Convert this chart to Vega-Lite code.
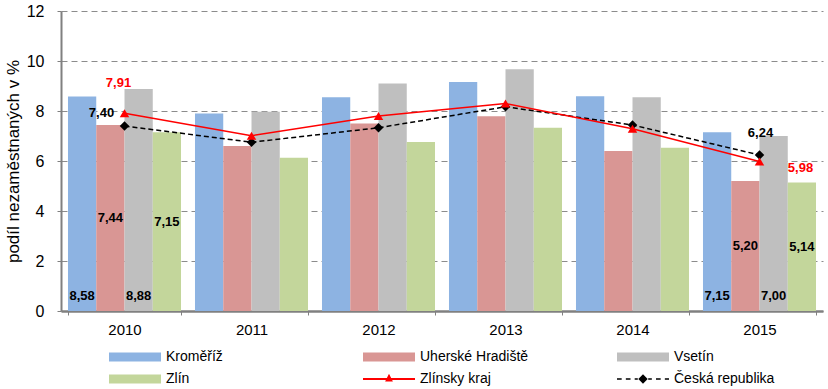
{
  "$schema": "https://vega.github.io/schema/vega-lite/v6.json",
  "width": 762,
  "height": 300,
  "autosize": {"type": "none"},
  "padding": {"left": 61, "top": 11, "right": 5, "bottom": 78},
  "background": "white",
  "config": {
    "locale": {"number": {"decimal": ",", "thousands": " ", "grouping": [3], "currency": ["", " Kč"]}},
    "view": {"stroke": null},
    "font": "Liberation Sans",
    "text": {"font": "Liberation Sans"}
  },
  "datasets": {
    "bars": [
      {"year": "2010", "series": "Kroměříž", "value": 8.58},
      {"year": "2010", "series": "Uherské Hradiště", "value": 7.44},
      {"year": "2010", "series": "Vsetín", "value": 8.88},
      {"year": "2010", "series": "Zlín", "value": 7.15},
      {"year": "2011", "series": "Kroměříž", "value": 7.9},
      {"year": "2011", "series": "Uherské Hradiště", "value": 6.6},
      {"year": "2011", "series": "Vsetín", "value": 7.97},
      {"year": "2011", "series": "Zlín", "value": 6.13},
      {"year": "2012", "series": "Kroměříž", "value": 8.55},
      {"year": "2012", "series": "Uherské Hradiště", "value": 7.5},
      {"year": "2012", "series": "Vsetín", "value": 9.1},
      {"year": "2012", "series": "Zlín", "value": 6.76},
      {"year": "2013", "series": "Kroměříž", "value": 9.16},
      {"year": "2013", "series": "Uherské Hradiště", "value": 7.79},
      {"year": "2013", "series": "Vsetín", "value": 9.67},
      {"year": "2013", "series": "Zlín", "value": 7.33},
      {"year": "2014", "series": "Kroměříž", "value": 8.59},
      {"year": "2014", "series": "Uherské Hradiště", "value": 6.4},
      {"year": "2014", "series": "Vsetín", "value": 8.55},
      {"year": "2014", "series": "Zlín", "value": 6.53},
      {"year": "2015", "series": "Kroměříž", "value": 7.15},
      {"year": "2015", "series": "Uherské Hradiště", "value": 5.2},
      {"year": "2015", "series": "Vsetín", "value": 7.0},
      {"year": "2015", "series": "Zlín", "value": 5.14}
    ],
    "lines": [
      {"year": "2010", "series": "Zlínsky kraj", "value": 7.91},
      {"year": "2011", "series": "Zlínsky kraj", "value": 7.01},
      {"year": "2012", "series": "Zlínsky kraj", "value": 7.8},
      {"year": "2013", "series": "Zlínsky kraj", "value": 8.3},
      {"year": "2014", "series": "Zlínsky kraj", "value": 7.29},
      {"year": "2015", "series": "Zlínsky kraj", "value": 5.98},
      {"year": "2010", "series": "Česká republika", "value": 7.4},
      {"year": "2011", "series": "Česká republika", "value": 6.75},
      {"year": "2012", "series": "Česká republika", "value": 7.33},
      {"year": "2013", "series": "Česká republika", "value": 8.17},
      {"year": "2014", "series": "Česká republika", "value": 7.44},
      {"year": "2015", "series": "Česká republika", "value": 6.24}
    ]
  },
  "encoding": {
    "x": {
      "field": "year", "type": "nominal",
      "scale": {"paddingInner": 0.11, "paddingOuter": 0.055},
      "axis": {
        "title": null, "labelAngle": 0, "labelFontSize": 15, "labelColor": "#000",
        "labelPadding": 7, "tickBand": "extent", "tickSize": 4, "tickColor": "#808080",
        "domainColor": "#808080", "domainWidth": 2.5, "grid": false
      }
    },
    "y": {
      "type": "quantitative",
      "scale": {"domain": [0, 12]},
      "axis": {
        "title": "podíl nezaměstnaných v %", "titleFontSize": 17, "titleFontWeight": "normal",
        "titleColor": "#000", "titlePadding": 4,
        "values": [0, 2, 4, 6, 8, 10, 12], "labelFontSize": 16, "labelColor": "#000",
        "labelPadding": 13, "tickSize": 4, "tickColor": "#808080",
        "domainColor": "#808080", "domainWidth": 2,
        "grid": true, "gridDash": [6, 4], "gridColor": "#8c8c8c", "gridWidth": 1
      }
    }
  },
  "layer": [
    {
      "data": {"name": "bars"},
      "mark": {"type": "bar"},
      "encoding": {
        "xOffset": {"field": "series", "type": "nominal", "sort": ["Kroměříž", "Uherské Hradiště", "Vsetín", "Zlín"], "scale": {"paddingInner": 0, "paddingOuter": 0}},
        "y": {"field": "value", "type": "quantitative"},
        "color": {
          "field": "series", "type": "nominal",
          "scale": {
            "domain": ["Kroměříž", "Uherské Hradiště", "Vsetín", "Zlín", "Zlínsky kraj", "Česká republika"],
            "range": ["#8db3e2", "#d99694", "#bfbfbf", "#c3d69b", "#ff0000", "#000000"]
          },
          "legend": {
            "title": null, "orient": "none", "legendX": 48, "legendY": 339,
            "direction": "horizontal", "columns": 3, "gridAlign": "all",
            "columnPadding": 88, "rowPadding": 8, "clipHeight": 14,
            "symbolSize": 2704, "labelOffset": 5,
            "labelFont": "Liberation Sans Narrow, Liberation Sans", "labelFontSize": 14, "labelColor": "#000",
            "symbolOpacity": 1,
            "encode": {
              "symbols": {
                "update": {
                  "shape": {"signal": "datum.value === 'Zlínsky kraj' ? 'M-1,-0.035H1V0.035H-1Z M0,-0.2L0.15,0.1L-0.15,0.1Z' : (datum.value === 'Česká republika' ? 'M-1,-0.03H-0.82V0.03H-1Z M-0.66,-0.03H-0.48V0.03H-0.66Z M-0.32,-0.03H-0.2V0.03H-0.32Z M0,-0.18L0.18,0L0,0.18L-0.18,0Z M0.2,-0.03H0.34V0.03H0.2Z M0.5,-0.03H0.68V0.03H0.5Z M0.84,-0.03H1V0.03H0.84Z' : 'M-1,-0.17H1V0.17H-1Z')"},
                  "fill": {"signal": "scale('color', datum.value)"},
                  "strokeWidth": {"value": 0},
                  "opacity": {"value": 1}
                }
              }
            }
          }
        }
      }
    },
    {
      "data": {"name": "bars"},
      "transform": [
        {"filter": "(datum.year === '2010' || datum.year === '2015') && (datum.series === 'Kroměříž' || datum.series === 'Vsetín')"}
      ],
      "mark": {"type": "text", "fontWeight": "bold", "fontSize": 13, "color": "#000", "baseline": "bottom", "dy": -8},
      "encoding": {
        "xOffset": {"field": "series", "type": "nominal", "sort": ["Kroměříž", "Uherské Hradiště", "Vsetín", "Zlín"]},
        "y": {"datum": 0},
        "text": {"field": "value", "type": "quantitative", "format": ".2f"}
      }
    },
    {
      "data": {"name": "bars"},
      "transform": [
        {"filter": "(datum.year === '2010' || datum.year === '2015') && (datum.series === 'Uherské Hradiště' || datum.series === 'Zlín')"},
        {"calculate": "datum.value / 2", "as": "mid"}
      ],
      "mark": {"type": "text", "fontWeight": "bold", "fontSize": 13, "color": "#000", "baseline": "middle"},
      "encoding": {
        "xOffset": {"field": "series", "type": "nominal", "sort": ["Kroměříž", "Uherské Hradiště", "Vsetín", "Zlín"]},
        "y": {"field": "mid", "type": "quantitative"},
        "text": {"field": "value", "type": "quantitative", "format": ".2f"}
      }
    },
    {
      "data": {"name": "lines"},
      "transform": [{"filter": "datum.series === 'Česká republika'"}],
      "mark": {"type": "line", "color": "#000", "strokeWidth": 1.5, "strokeDash": [5, 3]},
      "encoding": {"y": {"field": "value", "type": "quantitative"}}
    },
    {
      "data": {"name": "lines"},
      "transform": [{"filter": "datum.series === 'Zlínsky kraj'"}],
      "mark": {"type": "line", "color": "#ff0000", "strokeWidth": 1.5},
      "encoding": {"y": {"field": "value", "type": "quantitative"}}
    },
    {
      "data": {"name": "lines"},
      "transform": [{"filter": "datum.series === 'Česká republika'"}],
      "mark": {"type": "point", "shape": "diamond", "filled": true, "color": "#000", "size": 90, "opacity": 1},
      "encoding": {"y": {"field": "value", "type": "quantitative"}}
    },
    {
      "data": {"name": "lines"},
      "transform": [{"filter": "datum.series === 'Zlínsky kraj'"}],
      "mark": {"type": "point", "shape": "triangle-up", "filled": true, "color": "#ff0000", "size": 90, "opacity": 1},
      "encoding": {"y": {"field": "value", "type": "quantitative"}}
    },
    {
      "data": {"name": "lines"},
      "transform": [{"filter": "datum.series === 'Česká republika' && datum.year === '2010'"}],
      "mark": {"type": "text", "fontWeight": "bold", "fontSize": 13, "color": "#000", "dx": -23, "dy": -13},
      "encoding": {"y": {"field": "value", "type": "quantitative"}, "text": {"field": "value", "type": "quantitative", "format": ".2f"}}
    },
    {
      "data": {"name": "lines"},
      "transform": [{"filter": "datum.series === 'Česká republika' && datum.year === '2015'"}],
      "mark": {"type": "text", "fontWeight": "bold", "fontSize": 13, "color": "#000", "dx": 1, "dy": -22},
      "encoding": {"y": {"field": "value", "type": "quantitative"}, "text": {"field": "value", "type": "quantitative", "format": ".2f"}}
    },
    {
      "data": {"name": "lines"},
      "transform": [{"filter": "datum.series === 'Zlínsky kraj' && datum.year === '2010'"}],
      "mark": {"type": "text", "fontWeight": "bold", "fontSize": 13, "color": "#ff0000", "dx": -6, "dy": -30},
      "encoding": {"y": {"field": "value", "type": "quantitative"}, "text": {"field": "value", "type": "quantitative", "format": ".2f"}}
    },
    {
      "data": {"name": "lines"},
      "transform": [{"filter": "datum.series === 'Zlínsky kraj' && datum.year === '2015'"}],
      "mark": {"type": "text", "fontWeight": "bold", "fontSize": 13, "color": "#ff0000", "dx": 41, "dy": 6},
      "encoding": {"y": {"field": "value", "type": "quantitative"}, "text": {"field": "value", "type": "quantitative", "format": ".2f"}}
    }
  ]
}
